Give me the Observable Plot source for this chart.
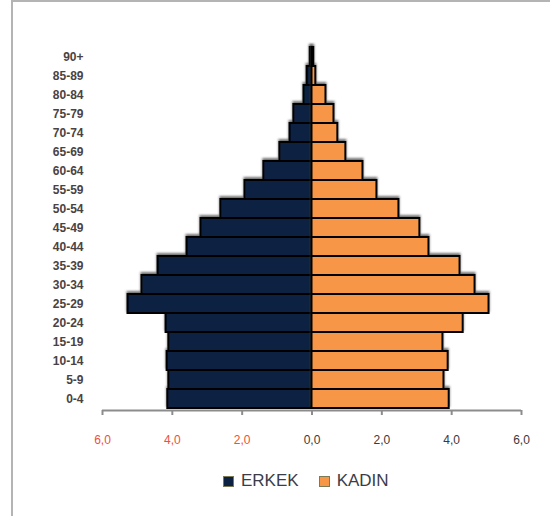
<!DOCTYPE html>
<html>
<head>
<meta charset="utf-8">
<script src="https://cdn.jsdelivr.net/npm/d3@7"></script>
<script src="https://cdn.jsdelivr.net/npm/@observablehq/plot@0.6"></script>
<style>
  html, body { margin: 0; padding: 0; background: #fff; }
  #wrap { position: relative; width: 550px; height: 516px; overflow: hidden; font-family: "Liberation Sans", Arial, sans-serif; }
  #frame { position: absolute; left: 11px; top: 0px; width: 560px; height: 540px; border-left: 2px solid #b4b4b4; border-top: 2px solid #b4b4b4; }
  #chart { position: absolute; left: 0; top: 0; }
  #legend { position: absolute; top: 471px; left: 223px; display: flex; align-items: center; font-size: 17px; color: #3c3c48; }
  .sw { width: 9px; height: 9px; border: 1px solid #7b7a55; margin-right: 7px; }
  .item { display: flex; align-items: center; margin-right: 20px; }
</style>
</head>
<body>
<div id="wrap">
  <div id="frame"></div>
  <div id="chart"></div>
  <div id="legend"></div>
</div>
<script>
// Age groups, youngest first
const ages = ["0-4","5-9","10-14","15-19","20-24","25-29","30-34","35-39","40-44","45-49",
              "50-54","55-59","60-64","65-69","70-74","75-79","80-84","85-89","90+"];
// Share of population (%) by age group
const erkek = [4.13,4.10,4.15,4.10,4.18,5.27,4.87,4.41,3.58,3.18,2.61,1.92,1.38,0.92,0.63,0.52,0.23,0.14,0.05];
const kadin = [3.93,3.78,3.90,3.75,4.33,5.07,4.67,4.24,3.35,3.09,2.49,1.86,1.46,0.97,0.74,0.63,0.40,0.11,0.05];
const seriesNames = ["ERKEK", "KADIN"];
const seriesColors = ["#0d2242", "#f79646"];
const xTicksLeft = [-6, -4, -2];
const xTicksRight = [0, 2, 4, 6];

const males = ages.map((age, i) => ({age, value: erkek[i]}));
const females = ages.map((age, i) => ({age, value: kadin[i]}));

const fmt = d => Math.abs(d).toFixed(1).replace(".", ",");

const plot = Plot.plot({
  width: 550,
  height: 460,
  marginLeft: 102,
  marginRight: 29,
  marginTop: 47,
  marginBottom: 52,
  style: {fontFamily: "'Liberation Sans', Arial, sans-serif", background: "transparent"},
  x: {domain: [-6, 6], axis: null},
  y: {domain: ages.slice().reverse(), padding: 0, axis: null},
  marks: [
    Plot.barX(males, {y: "age", x1: d => -d.value, x2: 0, fill: seriesColors[0], stroke: "#000", strokeWidth: 2}),
    Plot.barX(females, {y: "age", x1: 0, x2: d => d.value, fill: seriesColors[1], stroke: "#000", strokeWidth: 2}),
    Plot.ruleY(["0-4"], {x1: -6, x2: 6, stroke: "#8c8c8c", strokeWidth: 2, dy: 11.5}),
    Plot.axisY({tickSize: 0, tickPadding: 19, fontSize: 12, fill: "#4a4242", fontWeight: "bold", label: null}),
    Plot.axisX({ticks: xTicksLeft, tickFormat: fmt, tickSize: 5, tickPadding: 20, dy: 2, fontSize: 12, stroke: "#8c8c8c", strokeWidth: 2, fill: "#ec5040", label: null}),
    Plot.axisX({ticks: xTicksRight, tickFormat: fmt, tickSize: 5, tickPadding: 20, dy: 2, fontSize: 12, stroke: "#8c8c8c", strokeWidth: 2, fill: "#403838", label: null})
  ]
});

// Soft shadow behind the bars
const ns = "http://www.w3.org/2000/svg";
const defs = document.createElementNS(ns, "defs");
defs.innerHTML = '<filter id="barShadow" x="-10%" y="-20%" width="120%" height="140%">' +
  '<feDropShadow dx="0" dy="-2" stdDeviation="1.2" flood-color="#3a3a3a" flood-opacity="0.7"/></filter>';
plot.insertBefore(defs, plot.firstChild);
plot.querySelectorAll('g[aria-label="bar"]').forEach(g => g.setAttribute("filter", "url(#barShadow)"));

document.getElementById("chart").appendChild(plot);

const legend = document.getElementById("legend");
seriesNames.forEach((name, i) => {
  const item = document.createElement("div");
  item.className = "item";
  const sw = document.createElement("div");
  sw.className = "sw";
  sw.style.background = seriesColors[i];
  item.appendChild(sw);
  item.appendChild(document.createTextNode(name));
  legend.appendChild(item);
});
</script>
</body>
</html>
